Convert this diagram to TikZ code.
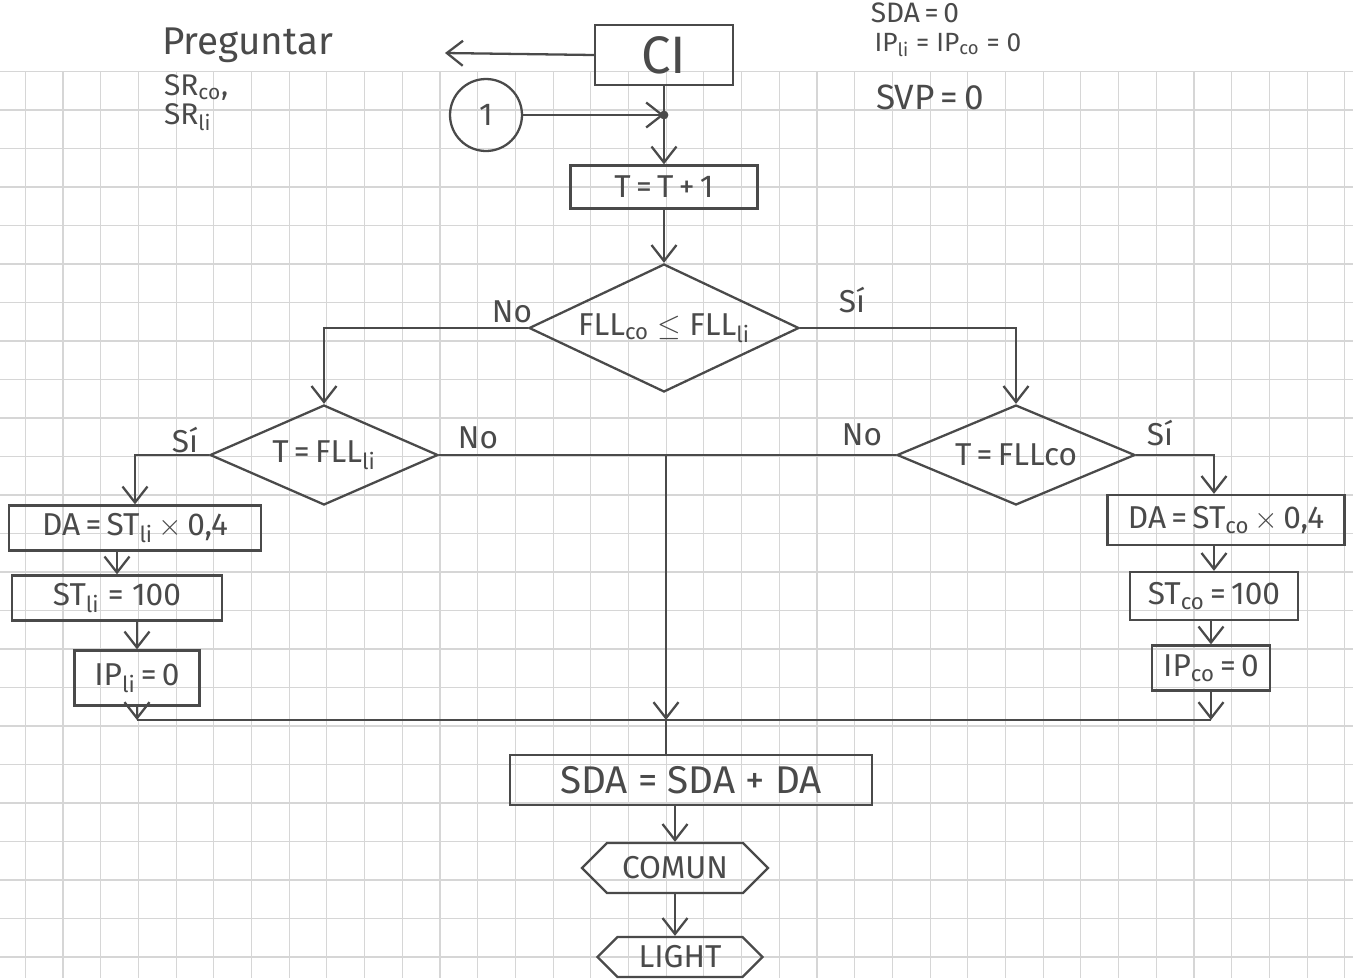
\documentclass[tikz,border=0pt]{standalone}
\usepackage{fontspec}
\setmainfont{Fira Sans}
\usetikzlibrary{shapes.geometric,shapes.symbols,arrows.meta}
\definecolor{pencil}{HTML}{4A4A4A}
\definecolor{gridline}{HTML}{D6D6D6}

\begin{document}
\begin{tikzpicture}[x=0.02cm,y=-0.02cm,
  ink/.style={draw=pencil,line width=1.3pt},
  arr/.style={ink,-{Straight Barb[length=3.2mm,width=5mm]}},
  txt/.style={text=pencil,font=\fontsize{18}{21}\selectfont},
  proc/.style={ink,txt,rectangle,inner sep=2pt},
  cond/.style={ink,txt,diamond,inner sep=0pt},
  prep/.style={ink,txt,signal,signal to=east and west,inner sep=3pt},
  lbl/.style={txt,inner sep=1pt}]

% Paper
\useasboundingbox (0,0) rectangle (1353,978);
\fill[white] (0,0) rectangle (1353,978);
\foreach \gx in {0,...,35}
  \draw[gridline,line width=0.6pt] ({25.3+37.7*\gx},72) -- ({25.3+37.7*\gx},978);
\foreach \gy in {1,...,24}
  \draw[gridline,line width=0.6pt] (0,{33+38.5*\gy}) -- (1353,{33+38.5*\gy});

% Start
\node[proc,minimum width=2.76cm,minimum height=1.2cm,font=\fontsize{30}{34}\selectfont] (ci) at (664,55) {CI};
\node[lbl,anchor=west,font=\fontsize{22}{24}\selectfont] (ask) at (160,45) {Preguntar};
\node[lbl,align=left,anchor=north west,font=\fontsize{17}{17}\selectfont] (srs) at (162,72)
  {SR\textsubscript{co},\\SR\textsubscript{li}};
\coordinate (askpt) at (445,53);
\draw[arr] (ci.west) -- (askpt);

% Initial values
\node[lbl,font=\fontsize{16}{18}\selectfont] (sdazero) at (915,13) {SDA\,=\,0};
\node[lbl,font=\fontsize{15}{18}\selectfont] (ipzero) at (948,45) {IP\textsubscript{li} = IP\textsubscript{co} = 0};
\node[lbl,font=\fontsize{20}{24}\selectfont] (svpzero) at (930,97) {SVP\,=\,0};

% Loop entry
\node[ink,txt,circle,minimum size=1.44cm,inner sep=0pt] (one) at (486,115) {1};
\coordinate (jn) at (ci.south |- one.east);
\node[proc,minimum width=3.74cm,minimum height=0.86cm] (tick) at (664,187) {T\,=\,T\,+\,1};
\draw[ink] (ci) -- (jn);
\draw[arr] (one) -- (jn);
\fill[pencil] (jn) circle (2.5pt);
\draw[arr] (jn) -- (tick);

% Decisions
\node[cond,shape aspect=2.1,minimum width=5.4cm,minimum height=2.56cm] (cmp) at (664,328) {FLL\textsubscript{co} $\leq$ FLL\textsubscript{li}};
\node[cond,shape aspect=2.28,minimum width=4.56cm,minimum height=2.0cm] (tli) at (324,455) {T\,=\,FLL\textsubscript{li}};
\node[cond,shape aspect=2.38,minimum width=4.76cm,minimum height=2.0cm] (tco) at (1016,455) {T\,=\,FLLco};
\draw[arr] (tick) -- (cmp);
\draw[arr] (cmp.west) -| (tli.north);
\draw[arr] (cmp.east) -| (tco.north);
\node[lbl] (nocmp) at (512,312) {No};
\node[lbl] (sicmp) at (852,300) {Sí};
\node[lbl] (sitli) at (185,440) {Sí};
\node[lbl] (notli) at (478,438) {No};
\node[lbl] (notco) at (862,435) {No};
\node[lbl] (sitco) at (1160,433) {Sí};

% Left branch
\node[proc,minimum width=5.04cm,minimum height=0.9cm] (dali) at (135,528) {DA\,=\,ST\textsubscript{li}\,$\times$\,0,4};
\node[proc,minimum width=4.2cm,minimum height=0.9cm] (stli) at (117,598) {ST\textsubscript{li} = 100};
\node[proc,minimum width=2.5cm,minimum height=1.1cm] (ipli) at (137,678) {IP\textsubscript{li}\,=\,0};
\draw[arr] (tli.west) -| (dali.north);
\draw[arr] (dali.south -| stli) -- (stli.north);
\draw[arr] (stli.south -| ipli) -- (ipli.north);

% Right branch
\node[proc,minimum width=4.74cm,minimum height=1.0cm] (daco) at (1226,520) {DA\,=\,ST\textsubscript{co}\,$\times$\,0,4};
\node[proc,minimum width=3.36cm,minimum height=0.96cm] (stco) at (1214,596) {ST\textsubscript{co}\,=\,100};
\node[proc,minimum width=2.36cm,minimum height=0.9cm] (ipco) at (1211,668) {IP\textsubscript{co}\,=\,0};
\draw[arr] (tco.east) -| (stco.north |- daco.north);
\draw[arr] (daco.south -| stco) -- (stco.north);
\draw[arr] (stco.south -| ipco) -- (ipco.north);

% Merge
\coordinate (jc) at (666,455);
\coordinate (jm) at (666,720);
\draw[ink] (tli.east) -- (jc);
\draw[ink] (tco.west) -- (jc);
\draw[arr] (jc) -- (jm);
\draw[arr] (ipli.south) -- (ipli.south |- jm);
\draw[arr] (ipco.south) -- (ipco.south |- jm);
\draw[ink] (ipli.south |- jm) -- (ipco.south |- jm);

% End
\node[proc,minimum width=7.24cm,minimum height=1.0cm,font=\fontsize{22}{26}\selectfont] (sda) at (691,780) {SDA = SDA + DA};
\node[prep,minimum width=3.72cm,minimum height=1.0cm] (comun) at (675,868) {COMUN};
\node[prep,minimum width=3.3cm,minimum height=0.8cm] (light) at (680,957) {LIGHT};
\draw[ink] (jm) -- (jm |- sda.north);
\draw[arr] (sda.south -| comun) -- (comun.north);
\draw[arr] (comun.south) -- (comun.south |- light.north);

\end{tikzpicture}
\end{document}
